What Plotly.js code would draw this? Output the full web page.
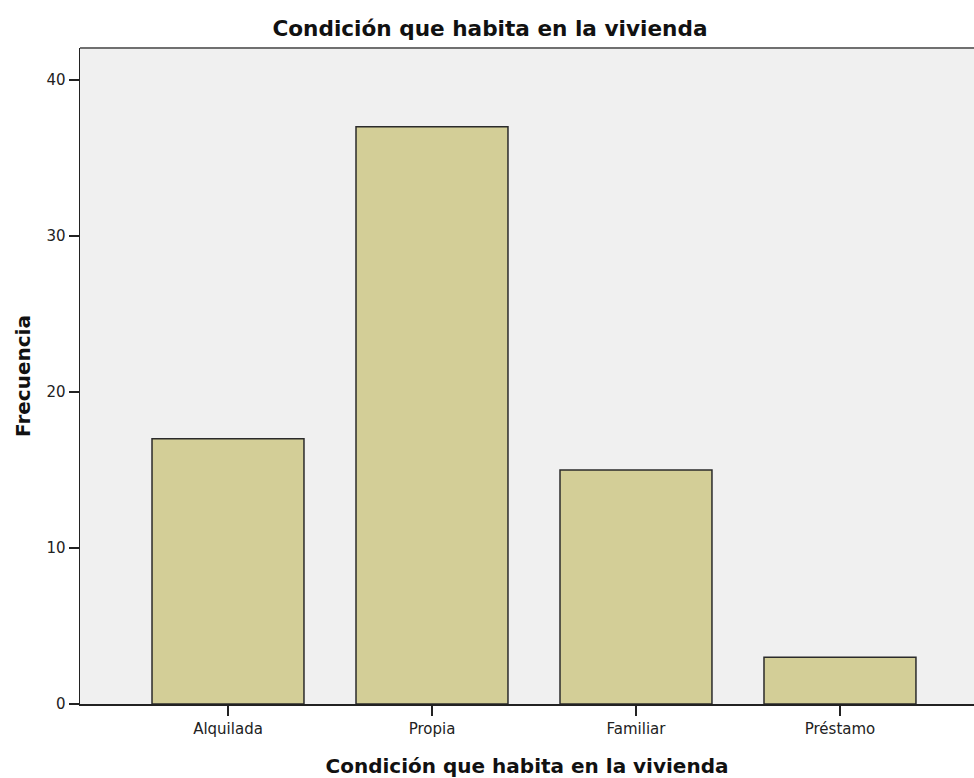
<!DOCTYPE html>
<html>
<head>
<meta charset="utf-8">
<script src="https://cdn.plot.ly/plotly-3.0.1.min.js"></script>
<style>
  html, body { margin: 0; padding: 0; background: #fff; }
  #plot { width: 974px; height: 778px; }
</style>
</head>
<body>
<div id="plot"></div>
<script>
const categorias = ['Alquilada', 'Propia', 'Familiar', 'Préstamo'];
const frecuencias = [17, 37, 15, 3];
const ticksY = [0, 10, 20, 30, 40];

const titulo = 'Condición que habita en la vivienda';
const tituloX = 'Condición que habita en la vivienda';
const tituloY = 'Frecuencia';

const barras = {
    type: 'bar',
    x: categorias,
    y: frecuencias,
    width: 0.745,
    marker: {
        color: '#d3ce97',
        line: { color: '#2b2b2b', width: 1.5 }
    },
    hoverinfo: 'x+y'
};

const layout = {
    width: 974,
    height: 778,
    margin: { l: 80, r: 0, t: 48, b: 74 },
    paper_bgcolor: '#ffffff',
    plot_bgcolor: '#f0f0f0',
    showlegend: false,
    font: { family: 'DejaVu Sans', color: '#1a1a1a' },
    title: {
        text: titulo,
        font: { family: 'DejaVu Sans', size: 21.6, weight: 'bold', color: '#111' },
        x: 0.503,
        xanchor: 'center',
        y: 0.964,
        yanchor: 'middle'
    },
    xaxis: {
        type: 'category',
        range: [-0.7255, 3.657],
        showline: true,
        linecolor: '#222',
        linewidth: 1.5,
        ticks: 'outside',
        ticklen: 10,
        tickwidth: 1.5,
        tickcolor: '#222',
        showgrid: false,
        tickfont: { family: 'DejaVu Sans', size: 15, color: '#222' },
        title: {
            text: tituloX,
            font: { family: 'DejaVu Sans', size: 20, weight: 'bold', color: '#111' }
        }
    },
    yaxis: {
        range: [0, 42.05],
        tickvals: ticksY,
        showline: true,
        linecolor: '#222',
        linewidth: 1.5,
        ticks: 'outside',
        ticklen: 10,
        tickwidth: 1.5,
        tickcolor: '#222',
        showgrid: false,
        zeroline: false,
        tickfont: { family: 'DejaVu Sans', size: 15, color: '#222' },
        title: {
            text: tituloY,
            font: { family: 'DejaVu Sans', size: 20, weight: 'bold', color: '#111' }
        }
    },
    shapes: [{
        type: 'line',
        xref: 'paper', yref: 'paper',
        x0: 0, x1: 1, y0: 1, y1: 1,
        line: { color: '#707070', width: 2 }
    }]
};

Plotly.newPlot('plot', [barras], layout, { displayModeBar: false, staticPlot: true });
</script>
</body>
</html>
